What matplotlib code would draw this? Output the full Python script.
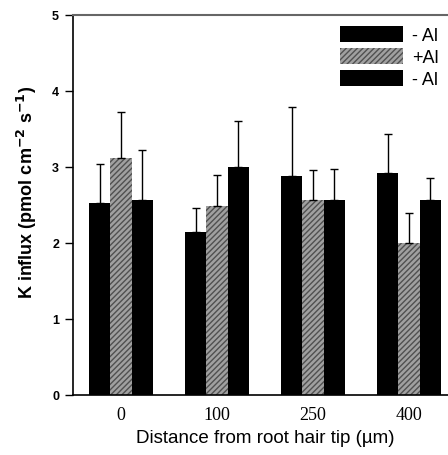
import matplotlib
matplotlib.use("Agg")
import matplotlib.pyplot as plt
from matplotlib.patches import Patch
import numpy as np

categories = ["0", "100", "250", "400"]
series_labels = ["- Al", "+Al", "- Al"]
means = [
    [2.53, 2.15, 2.88, 2.92],
    [3.12, 2.49, 2.56, 2.00],
    [2.56, 3.00, 2.57, 2.56],
]
upper = [
    [3.04, 2.46, 3.79, 3.43],
    [3.72, 2.90, 2.96, 2.40],
    [3.22, 3.61, 2.97, 2.86],
]
yticks = [0, 1, 2, 3, 4, 5]

fig = plt.figure(figsize=(4.48, 4.56), dpi=100)
ax = fig.add_axes([73/448, 1-396/456, 384/448, 380/456])

x = np.arange(len(categories))
w = 0.22
styles = [
    dict(facecolor="black", edgecolor="black", hatch=None),
    dict(facecolor="#a0a0a0", edgecolor="#505050", hatch="//////"),
    dict(facecolor="black", edgecolor="black", hatch=None),
]
for i in range(3):
    pos = x + (i - 1) * w
    m = np.array(means[i])
    err = np.array(upper[i]) - m
    ax.bar(pos, m, width=w, linewidth=0, **styles[i])
    ax.errorbar(pos, m, yerr=[np.zeros_like(err), err], fmt="none",
                ecolor="black", elinewidth=1.0, capsize=3, capthick=1.0)

ax.set_xlim(-0.5, 3.5)
ax.set_ylim(0, 5)
ax.set_yticks(yticks)
ax.set_yticklabels([str(t) for t in yticks], fontfamily="Liberation Sans",
                   fontweight="bold", fontsize=9)
ax.set_xticks(x)
ax.set_xticklabels(categories, fontfamily="Liberation Serif", fontsize=13)
ax.tick_params(axis="x", length=0, pad=8)
ax.tick_params(axis="y", length=6, width=1, direction="out", pad=4)
for s in ["left", "bottom"]:
    ax.spines[s].set_linewidth(1.2)
ax.spines["top"].set_color("#666666")
ax.spines["top"].set_linewidth(1.5)

ax.set_xlabel("Distance from root hair tip (\u00b5m)", fontfamily="Liberation Sans",
              fontsize=13.5, labelpad=4)
ax.set_ylabel("K influx (pmol cm$^{\\mathbf{-2}}$ s$^{\\mathbf{-1}}$)",
              fontfamily="Liberation Sans", fontweight="bold", fontsize=13)
ax.yaxis.set_label_coords(-(73 - 39) / 384, (396 - 192) / 380)

handles = [Patch(**styles[i], linewidth=0) for i in range(3)]
fig.legend(handles, series_labels, loc="upper left", bbox_to_anchor=(340/448, 1-27/456),
           frameon=False, prop=dict(family="Liberation Sans", size=13),
           handlelength=3.5, handleheight=0.95, labelspacing=0.22, handletextpad=0.5,
           borderaxespad=0, borderpad=0)

fig.savefig("out.png", dpi=100)
